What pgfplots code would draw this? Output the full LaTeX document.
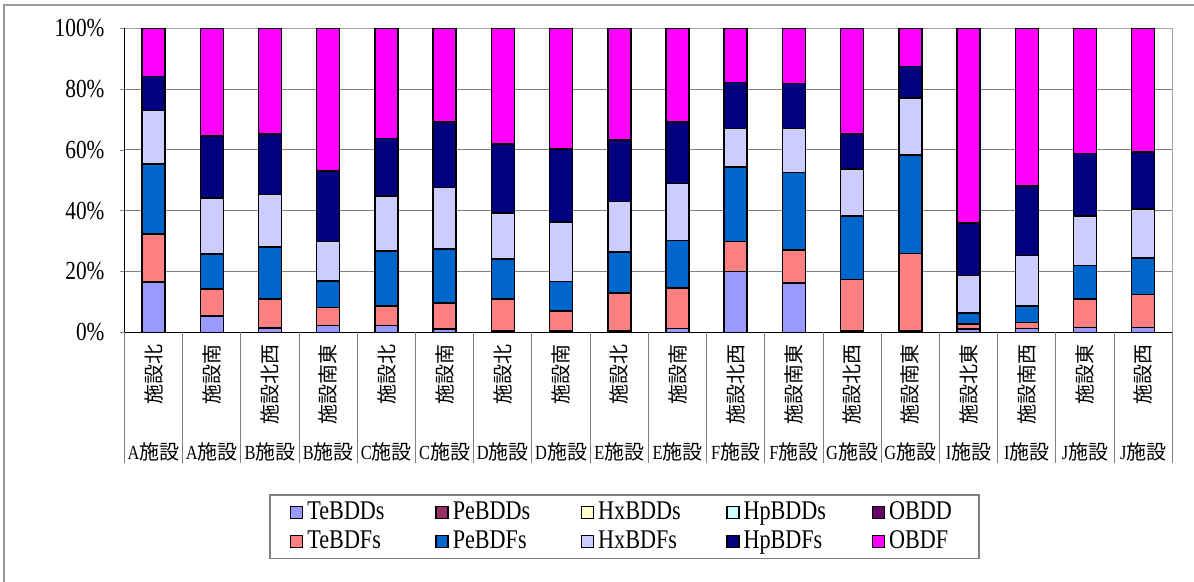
\documentclass[border=0pt]{standalone}
\usepackage{pgfplots}
\pgfplotsset{compat=1.18}
\usepackage{pgfplotstable}
\usepackage{fontspec}
\setmainfont{Liberation Serif}[FakeStretch=0.82]
\newfontfamily\jp{Noto Sans CJK JP}
\definecolor{cTeBDDs}{HTML}{9999FF}
\definecolor{cPeBDDs}{HTML}{993366}
\definecolor{cHxBDDs}{HTML}{FFFFCC}
\definecolor{cHpBDDs}{HTML}{CCFFFF}
\definecolor{cOBDD}{HTML}{660066}
\definecolor{cTeBDFs}{HTML}{FF8080}
\definecolor{cPeBDFs}{HTML}{0066CC}
\definecolor{cHxBDFs}{HTML}{CCCCFF}
\definecolor{cHpBDFs}{HTML}{000080}
\definecolor{cOBDF}{HTML}{FF00FF}
\pgfplotstableread{
x TeBDDs PeBDDs HxBDDs HpBDDs OBDD TeBDFs PeBDFs HxBDFs HpBDFs OBDF
0 16.5 0 0 0 0   15.8 23.0 17.6 11.2 15.9
1 5.3  0 0 0 0   8.9  11.6 18.4 20.4 35.4
2 1.4  0 0 0 0   9.6  17.0 17.3 19.9 34.8
3 2.2  0 0 0 0   6.0  8.6  13.0 23.3 46.9
4 2.2  0 0 0 0   6.4  18.1 18.1 18.9 36.3
5 1.1  0 0 0 0   8.5  17.8 20.2 21.5 30.9
6 0    0 0 0 0.5 10.4 13.2 15.2 22.7 38.0
7 0    0 0 0 0.5 6.5  9.7  19.5 24.1 39.7
8 0    0 0 0 0.5 12.4 13.5 16.7 20.2 36.7
9 1.3  0 0 0 0   13.2 15.7 18.7 20.2 30.9
10 20.0 0 0 0 0  9.9  24.5 12.6 15.2 17.8
11 16.2 0 0 0 0  10.9 25.4 14.6 14.8 18.1
12 0   0 0 0 0.5 16.8 20.9 15.5 11.5 34.8
13 0   0 0 0 0.5 25.5 32.4 18.7 10.3 12.6
14 0.9 0 0 0 0.4 1.4  3.7  12.3 17.3 64.0
15 1.2 0 0 0 0   2.1  5.3  16.6 23.0 51.8
16 1.6 0 0 0 0   9.3  11.1 16.2 20.6 41.2
17 1.6 0 0 0 0   10.8 12.0 16.1 18.8 40.7
}\data
\newcommand{\fac}[1]{{\rmfamily #1}{\jp 施設}}
\newcommand{\legtxt}[1]{\makebox[62pt][l]{#1}}
\expandafter\def\csname rl0\endcsname{施設北}
\expandafter\def\csname rl1\endcsname{施設南}
\expandafter\def\csname rl2\endcsname{施設北西}
\expandafter\def\csname rl3\endcsname{施設南東}
\expandafter\def\csname rl4\endcsname{施設北}
\expandafter\def\csname rl5\endcsname{施設南}
\expandafter\def\csname rl6\endcsname{施設北}
\expandafter\def\csname rl7\endcsname{施設南}
\expandafter\def\csname rl8\endcsname{施設北}
\expandafter\def\csname rl9\endcsname{施設南}
\expandafter\def\csname rl10\endcsname{施設北西}
\expandafter\def\csname rl11\endcsname{施設南東}
\expandafter\def\csname rl12\endcsname{施設北西}
\expandafter\def\csname rl13\endcsname{施設南東}
\expandafter\def\csname rl14\endcsname{施設北東}
\expandafter\def\csname rl15\endcsname{施設南西}
\expandafter\def\csname rl16\endcsname{施設東}
\expandafter\def\csname rl17\endcsname{施設西}
\begin{document}
\begin{tikzpicture}[x=1pt,y=1pt]
\useasboundingbox (0,0) rectangle (597,291);
\draw[gray!80, line width=0.6pt] (2,0) -- (2,288.5) -- (597,288.5);
\begin{axis}[
  at={(62.25pt,124.85pt)}, anchor=south west,
  scale only axis, width=523.9pt, height=152pt,
  ybar stacked, bar width=11.5pt,
  xmin=-0.5, xmax=17.5, ymin=0, ymax=100,
  xtick={0,...,17},
  xticklabels={\fac{A},\fac{A},\fac{B},\fac{B},\fac{C},\fac{C},\fac{D},\fac{D},\fac{E},\fac{E},\fac{F},\fac{F},\fac{G},\fac{G},\fac{I},\fac{I},\fac{J},\fac{J}},
  xticklabel style={font=\fontsize{10}{12}\selectfont, anchor=base, yshift=-61pt},
  major x tick style=transparent,
  ytick={0,20,...,100},
  yticklabels={0\%,20\%,40\%,60\%,80\%,100\%},
  yticklabel style={font=\fontsize{13}{15}\selectfont, xshift=-4pt},
  ytick pos=left, xtick pos=bottom,
  tick align=outside, major tick length=2.5pt,
  ymajorgrids, grid style={color=gray, line width=0.5pt},
  axis line style={color=gray!70, line width=0.6pt},
  clip=false,
  every axis plot post/.append style={draw=black, line width=0.75pt,
    legend image code/.code={\draw[##1, draw=black, line width=0.7pt] (0pt,-3pt) rectangle (6pt,3pt);}},
  legend columns=5,
  legend cell align=left,
  legend style={at={(0.4772,-0.64)}, anchor=center, draw=gray, line width=0.6pt,
    font=\fontsize{13.5}{16}\selectfont, inner xsep=10pt, inner ysep=1.5pt},
]
\addplot[fill=cTeBDDs] table[x=x,y=TeBDDs]{\data};
\addplot[fill=cPeBDDs] table[x=x,y=PeBDDs]{\data};
\addplot[fill=cHxBDDs] table[x=x,y=HxBDDs]{\data};
\addplot[fill=cHpBDDs] table[x=x,y=HpBDDs]{\data};
\addplot[fill=cOBDD] table[x=x,y=OBDD]{\data};
\addplot[fill=cTeBDFs] table[x=x,y=TeBDFs]{\data};
\addplot[fill=cPeBDFs] table[x=x,y=PeBDFs]{\data};
\addplot[fill=cHxBDFs] table[x=x,y=HxBDFs]{\data};
\addplot[fill=cHpBDFs] table[x=x,y=HpBDFs]{\data};
\addplot[fill=cOBDF] table[x=x,y=OBDF]{\data};
\addlegendentry{\legtxt{TeBDDs}}
\addlegendentry{\legtxt{PeBDDs}}
\addlegendentry{\legtxt{HxBDDs}}
\addlegendentry{\legtxt{HpBDDs}}
\addlegendentry{\makebox[33pt][l]{OBDD}}
\addlegendentry{\legtxt{TeBDFs}}
\addlegendentry{\legtxt{PeBDFs}}
\addlegendentry{\legtxt{HxBDFs}}
\addlegendentry{\legtxt{HpBDFs}}
\addlegendentry{\makebox[33pt][l]{OBDF}}
\pgfplotsinvokeforeach{-0.5,0.5,...,17.5}{\draw[gray, line width=0.5pt] (axis cs:#1,0) -- ++(0pt,-65.5pt);}
\pgfplotsinvokeforeach{0,...,17}{\path (axis cs:#1,0) ++(0pt,-4pt) node[rotate=90, anchor=east, inner sep=2pt, font=\jp\fontsize{10}{12}\selectfont]{\csname rl#1\endcsname};}
\draw[black, line width=0.75pt] (rel axis cs:0,1) -- (rel axis cs:0,0) -- (rel axis cs:1,0);
\end{axis}
\end{tikzpicture}
\end{document}
